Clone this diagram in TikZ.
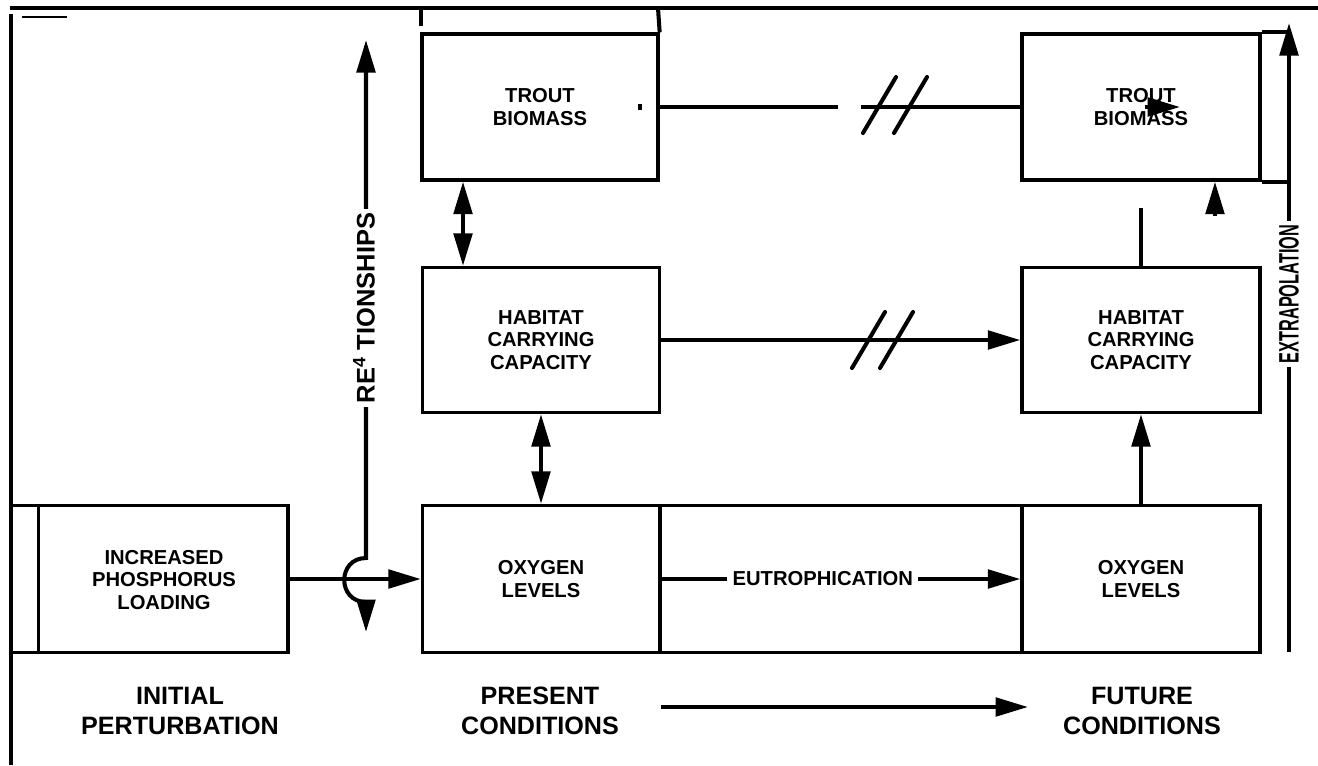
\documentclass[tikz,border=0pt]{standalone}
\usepackage{graphicx}
\usepackage{fontspec}
\setmainfont{Liberation Sans}
\usetikzlibrary{arrows.meta}

\newcommand{\boxfont}{\bfseries\fontsize{11.5}{12.8}\selectfont}
\newcommand{\lblfont}{\bfseries\fontsize{14.3}{17}\selectfont}
\newcommand{\sidefont}{\bfseries\fontsize{14.5}{16}\selectfont}

\begin{document}
\begin{tikzpicture}[x=0.02cm,y=-0.02cm,
  >={Triangle[length=18.5pt,width=10.5pt]},
  cell/.style 2 args={draw,line width=1.9pt,align=center,font=\boxfont,inner sep=0pt,
    minimum width=#1*0.02cm,minimum height=#2*0.02cm},
  link/.style={line width=2.3pt},
  frame/.style={line width=2.4pt},
  lbl/.style={align=center,font=\lblfont},
  side/.style={fill=white,inner sep=2pt,rotate=90,font=\sidefont}]
  \useasboundingbox (0,0) rectangle (1318,765);

  % Frame
  \draw[frame] (10,8) -- (1318,8);
  \draw[frame] (11,14) -- (11,765);
  \draw[line width=0.6pt] (22,17) -- (67,17);
  \draw[link] (421,8) -- (421,26);

  % Present conditions
  \node[cell={236}{146}] (troutA) at (540,107) {TROUT\\BIOMASS};
  \node[cell={237}{145}] (hccA) at (541,340) {HABITAT\\CARRYING\\CAPACITY};
  \node[cell={237}{147}] (oxyA) at (541,579) {OXYGEN\\LEVELS};
  \node[cell={362}{147}] (eutro) at (841,579) {};

  % Future conditions
  \node[cell={238}{146}] (troutB) at (1141,107) {TROUT\\BIOMASS};
  \node[cell={238}{145}] (hccB) at (1141,340) {HABITAT\\CARRYING\\CAPACITY};
  \node[cell={238}{147}] (oxyB) at (1141,579) {OXYGEN\\LEVELS};

  % Initial perturbation
  \node[cell={277}{147}] (phos) at (149.5,579) {};
  \draw[line width=1.9pt] ([xshift=0.58cm]phos.north west) -- ([xshift=0.58cm]phos.south west);
  \node[font=\boxfont,align=center] (phosTxt) at (164,580) {INCREASED\\PHOSPHORUS\\LOADING};

  \draw[link] (658,8) -- (troutA.north east);
  \fill (638,104) rectangle (642,110);

  % Bottom labels
  \node[lbl] (initial) at (180,711) {INITIAL\\PERTURBATION};
  \node[lbl] (present) at (540,711) {PRESENT\\CONDITIONS};
  \node[lbl] (future) at (1142,711) {FUTURE\\CONDITIONS};
  \coordinate (pc) at (661,707);
  \coordinate (fc) at (1028,707);
  \draw[link,->] (pc) -- (fc);

  % Links
  \draw[link,<->] ([xshift=-1.54cm]troutA.south) -- ([xshift=-1.56cm]hccA.north);
  \draw[link,<->] (hccA.south) -- (oxyA.north);
  \draw[link,->] (phos.east) -- (oxyA.west);
  \draw[link,->] (oxyA.east) -- node[pos=0.45,fill=white,font=\boxfont,inner sep=3pt] (eutroLbl) {EUTROPHICATION} (oxyB.west);
  \draw[link,->] (oxyB.north) -- (hccB.south);
  \draw[link,->] (hccA.east) -- (hccB.west);
  \draw[link,line cap=round] (852,368) -- (885,312) (880,368) -- (913,312);
  \draw[link] (hccB.north) -- ++(0,-58);
  \draw[link,->] ([xshift=1.48cm,yshift=-0.68cm]troutB.south) -- ([xshift=1.48cm]troutB.south);

  \coordinate (brkL) at (838,107);
  \coordinate (brkR) at (861,107);
  \draw[link] (troutA.east) -- (brkL);
  \draw[link] (brkR) -- (troutB.west);
  \draw[link,line cap=round] (863,133) -- (896,77) (894,133) -- (927,77);
  \draw[link,->] (1145,107) -- (1180,107);

  % Relationships
  \coordinate (relTop) at (366,40);
  \coordinate (relBot) at (366,632);
  \draw[link,<->] (relBot) -- (366,602) .. controls (337,602) and (337,558) .. (366,558) -- (relTop);
  \node[side] (rel) at (364,308) {RE\textsuperscript{4} TIONSHIPS};

  % Extrapolation
  \coordinate (exBot) at (1289,652);
  \coordinate (exTop) at (1289,23);
  \draw[link,->] (exBot) -- (exTop);
  \draw[link] (troutB.north east) -- (exTop |- troutB.north);
  \draw[link] (troutB.south east) -- (exTop |- troutB.south);
  \node[side,font=\bfseries\fontsize{16}{18}\selectfont] (extra) at (1289,294) {\scalebox{0.58}[1]{EXTRAPOLATION}};
\end{tikzpicture}
\end{document}
